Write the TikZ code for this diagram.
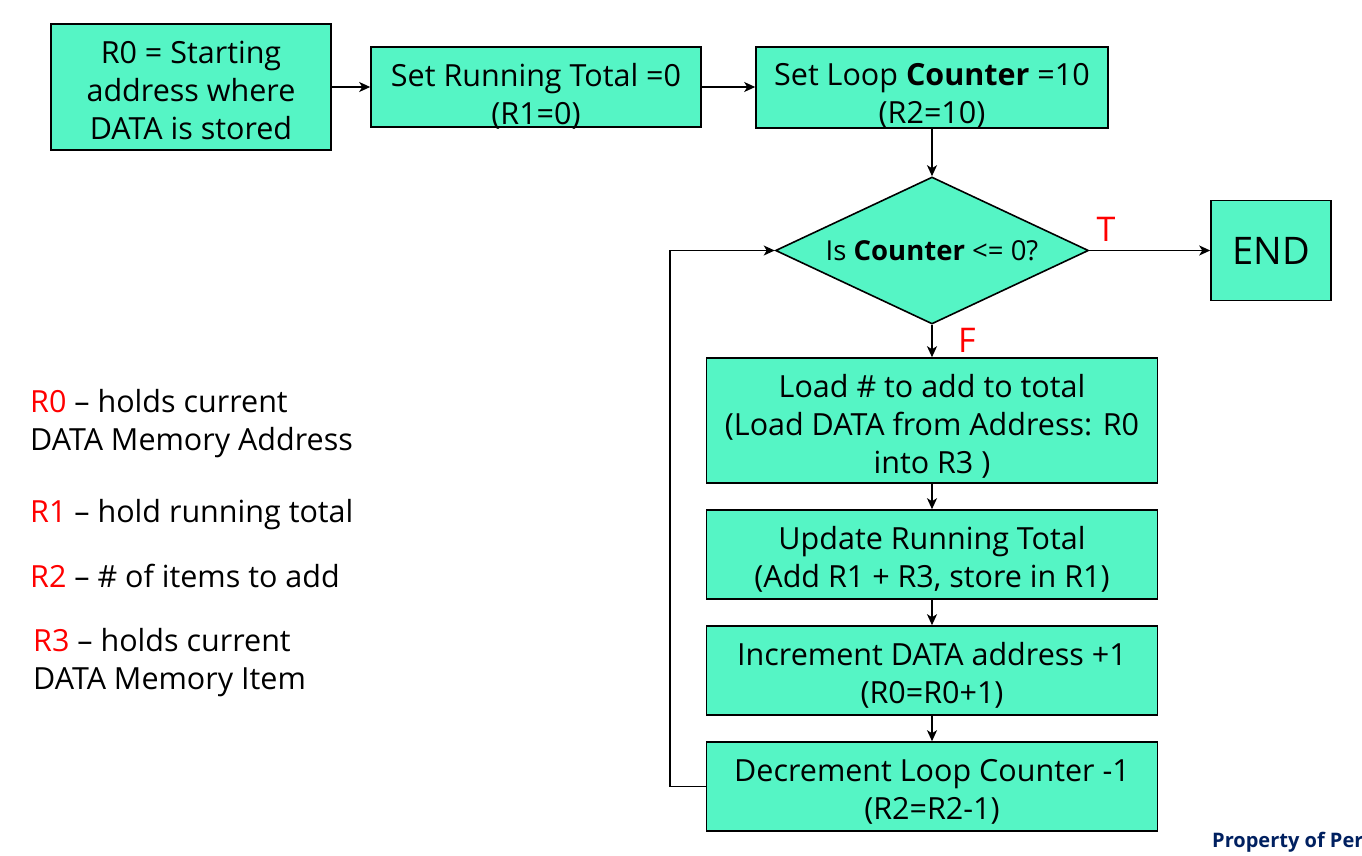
\documentclass[tikz,border=0pt]{standalone}
\usepackage{fontspec}
\setmainfont{Open Sans}
\usetikzlibrary{shapes.geometric,arrows.meta}
\definecolor{boxfill}{HTML}{55F5C5}
\definecolor{navy}{RGB}{0,32,96}
\tikzset{
  x=1pt,y=-1pt,
  flowbox/.style={draw=black,line width=1.6pt,fill=boxfill,rectangle,inner sep=0pt},
  boxtext/.style={align=center,inner sep=0pt,font=\fontsize{30.5}{38}\selectfont},
  decision/.style={draw=black,line width=1.6pt,fill=boxfill,diamond,inner sep=0pt,aspect=2.13,
    font=\fontsize{27.5}{32}\selectfont},
  conn/.style={line width=1.6pt,-{Stealth[length=11pt,width=10pt,inset=3pt]}},
  legend/.style={align=left,anchor=west,inner sep=0pt,font=\fontsize{30.5}{38}\selectfont},
  flaglabel/.style={text=red,inner sep=0pt,font=\fontsize{34}{40}\selectfont}
}
\begin{document}
\begin{tikzpicture}
\useasboundingbox (0,0) rectangle (1362,856);
\fill[white] (0,0) rectangle (1362,856);

\node[flowbox,minimum width=280pt,minimum height=126pt] (start) at (191,87) {};
\node[boxtext] (starttxt) at (191,90) {R0 = Starting\\address where\\DATA is stored};
\node[flowbox,minimum width=330pt,minimum height=80pt] (total) at (536,87) {};
\node[boxtext] (totaltxt) at (536,96) {Set Running Total =0\\(R1=0)};
\node[flowbox,minimum width=352pt,minimum height=81pt] (counter) at (932,87.5) {};
\node[boxtext] (countertxt) at (932,96) {Set Loop \textbf{Counter} =10\\(R2=10)};
\node[decision,minimum width=313pt,minimum height=147pt] (test) at (932,250.5)
  {Is \textbf{Counter} <= 0?};
\node[flowbox,minimum width=120pt,minimum height=100pt,font=\fontsize{38}{44}\selectfont] (end) at (1271,250.5)
  {END};
\node[flowbox,minimum width=451pt,minimum height=125pt] (load) at (932,420.5) {};
\node[boxtext] (loadtxt) at (932,426.5) {Load \# to add to total\\(Load DATA from Address: R0\\into R3 )};
\node[flowbox,minimum width=451pt,minimum height=89pt] (update) at (932,554.5) {};
\node[boxtext] (updatetxt) at (932,559.5) {Update Running Total\\(Add R1 + R3, store in R1)};
\node[flowbox,minimum width=451pt,minimum height=89pt] (incr) at (932,670.5) {};
\node[boxtext] (incrtxt) at (932,675.5) {Increment DATA address +1\\(R0=R0+1)};
\node[flowbox,minimum width=451pt,minimum height=89pt] (decr) at (932,786.5) {};
\node[boxtext] (decrtxt) at (932,792) {Decrement Loop Counter -1\\(R2=R2-1)};

\draw[conn] (start.east) -- (total.west);
\draw[conn] (total.east) -- (total.east -| counter.west);
\draw[conn] (counter.south) -- (test.north);
\draw[conn] (test.east) -- (end.west);
\draw[conn] (test.south) -- (load.north);
\draw[conn] (load.south) -- (update.north);
\draw[conn] (update.south) -- (incr.north);
\draw[conn] (incr.south) -- (decr.north);
\draw[conn] (decr.west) -- ++(-36,0) |- (test.west);

\node[flaglabel] (tlab) at (1106,229) {T};
\node[flaglabel] (flab) at (967,340) {F};

\node[legend] (leg0) at (30,424) {\textcolor{red}{R0} – holds current\\DATA Memory Address};
\node[legend] (leg1) at (30,515) {\textcolor{red}{R1} – hold running total};
\node[legend] (leg2) at (30,576) {\textcolor{red}{R2} – \# of items to add};
\node[legend] (leg3) at (33,663) {\textcolor{red}{R3} – holds current\\DATA Memory Item};

\node[anchor=west,inner sep=0pt,text=navy,font=\bfseries\fontsize{20}{24}\selectfont] (prop) at (1212,842) {Property of Per};
\end{tikzpicture}
\end{document}
